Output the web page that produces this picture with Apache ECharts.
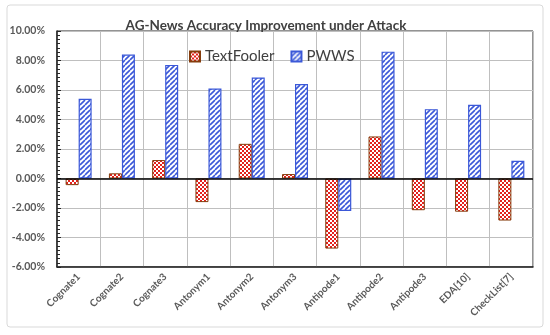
<!DOCTYPE html>
<html><head><meta charset="utf-8">
<script src="https://cdn.jsdelivr.net/npm/echarts@6/dist/echarts.min.js"></script>
<style>html,body{margin:0;padding:0;background:#fff}#c{width:550px;height:335px}</style>
</head><body><div id="c"></div>
<script>
const categories = ['Cognate1','Cognate2','Cognate3','Antonym1','Antonym2','Antonym3','Antipode1','Antipode2','Antipode3','EDA[10]','CheckList[7]'];
const textFooler = [-0.45, 0.35, 1.25, -1.6, 2.35, 0.3, -4.75, 2.85, -2.15, -2.25, -2.85];
const pwws = [5.4, 8.4, 7.7, 6.1, 6.85, 6.4, -2.2, 8.6, 4.7, 5.0, 1.2];
const yTicks = {min: -6, max: 10, interval: 2};

function checker() {
  const c = document.createElement('canvas'); c.width = 4; c.height = 4;
  const g = c.getContext('2d');
  g.fillStyle = '#ffffff'; g.fillRect(0,0,4,4);
  g.fillStyle = '#e3211c'; g.fillRect(0,0,2,2); g.fillRect(2,2,2,2);
  return c;
}
function stripes() {
  const s = 5;
  const c = document.createElement('canvas'); c.width = s; c.height = s;
  const g = c.getContext('2d');
  g.fillStyle = '#ffffff'; g.fillRect(0,0,s,s);
  g.strokeStyle = '#3b58d8'; g.lineWidth = 1.6;
  g.beginPath();
  for (let k = -1; k <= 1; k++) { g.moveTo(k*s, s); g.lineTo(k*s + s, 0); }
  g.stroke();
  return c;
}

const chart = echarts.init(document.getElementById('c'), null, {renderer: 'canvas'});
const font = 'Lato, "Open Sans", sans-serif';
chart.setOption({
  animation: false,
  textStyle: {fontFamily: font},
  graphic: [{type: 'rect', shape: {x: 7, y: 5, width: 536, height: 322, r: 3}, style: {fill: 'none', stroke: '#d9d9d9', lineWidth: 1}, z: -10}],
  title: {text: 'AG-News Accuracy Improvement under Attack', left: 261, textAlign: 'center', top: 14,
    textStyle: {fontSize: 13.5, fontWeight: 'bold', color: '#404040', fontFamily: font}},
  legend: {left: 184, top: 44, itemWidth: 10, itemHeight: 10, itemGap: 16, icon: 'rect',
    textStyle: {fontSize: 15, color: '#404040', fontFamily: font}, data: ['TextFooler','PWWS']},
  grid: {left: 57, right: 17, top: 31, bottom: 68, show: true, borderColor: '#262626', borderWidth: 1},
  xAxis: {type: 'category', data: categories,
    axisLine: {onZero: false, lineStyle: {color: '#262626', width: 1.5}},
    axisTick: {show: false},
    splitLine: {show: true, lineStyle: {color: '#bfbfbf', width: 1}},
    axisLabel: {rotate: 45, fontSize: 10, fontWeight: 'bold', color: '#595959', margin: 8, interval: 0, fontFamily: font}},
  yAxis: {type: 'value', min: yTicks.min, max: yTicks.max, interval: yTicks.interval,
    axisLine: {show: true, lineStyle: {color: '#262626', width: 1.5}},
    axisTick: {show: true, inside: true, length: 4, lineStyle: {color: '#262626'}},
    minorTick: {show: true, splitNumber: 7, length: 3, lineStyle: {color: '#262626'}},
    splitLine: {show: true, lineStyle: {color: '#bfbfbf', width: 1}},
    axisLabel: {formatter: v => v.toFixed(2) + '%', fontSize: 10.5, fontWeight: 'bold', color: '#595959', margin: 12, fontFamily: font}},
  series: [
    {name: 'TextFooler', type: 'bar', data: textFooler, barWidth: 13, barGap: '0%',
      itemStyle: {color: {image: checker(), repeat: 'repeat'}, borderColor: '#843c0c', borderWidth: 1},
      markLine: {silent: true, symbol: 'none', label: {show: false}, data: [{yAxis: 0}], lineStyle: {color: '#000', width: 1.5, type: 'solid'}}},
    {name: 'PWWS', type: 'bar', data: pwws, barWidth: 13,
      itemStyle: {color: {image: stripes(), repeat: 'repeat'}, borderColor: '#3b58d8', borderWidth: 1.2}}
  ]
});
</script></body></html>
